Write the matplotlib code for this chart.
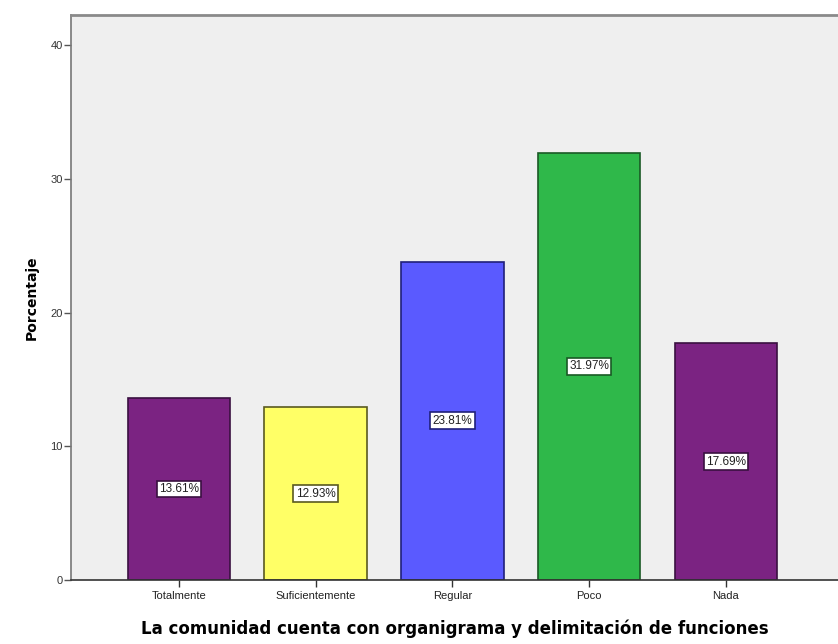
import numpy as np
import matplotlib.pyplot as plt

categorias = ['Totalmente', 'Suficientemente', 'Regular', 'Poco', 'Nada']
porcentajes = [13.61, 12.93, 23.81, 31.97, 17.69]
etiquetas = ['13.61%', '12.93%', '23.81%', '31.97%', '17.69%']
colores = ['#7b2382', '#ffff66', '#5a5aff', '#2fb84a', '#7b2382']
bordes = ['#3a1040', '#5a5a20', '#20207a', '#1a5a25', '#3a1040']

plt.rcParams['font.family'] = ['Liberation Sans', 'DejaVu Sans']

fig = plt.figure(figsize=(8.38, 6.44), dpi=100)
ax = fig.add_axes([0.0847, 0.0994, 0.9153, 0.8773])
ax.set_facecolor('#efefef')

x = np.arange(len(categorias))
bars = ax.bar(x, porcentajes, width=0.75, color=colores, edgecolor=bordes, linewidth=1.2, zorder=2)

for xi, v, t, b in zip(x, porcentajes, etiquetas, bordes):
    ax.text(xi, v / 2, t, ha='center', va='center', fontsize=8.5, color='#222222', zorder=3,
            bbox=dict(boxstyle='square,pad=0.2', facecolor='white', edgecolor=b, linewidth=1.2))

ax.set_xlim(-0.79, 4.82)
ax.set_ylim(0, 42.26)
ax.set_yticks([0, 10, 20, 30, 40])
ax.set_xticks(x)
ax.set_xticklabels(categorias, fontsize=8)
ax.tick_params(axis='y', labelsize=8, length=5, width=1, color='#555555', pad=1, labelcolor='#333333')
ax.tick_params(axis='x', length=5, width=1, color='#333333', pad=3, labelcolor='#222222')

ax.spines['right'].set_visible(False)
ax.spines['top'].set_color('#8a8a8a')
ax.spines['top'].set_linewidth(2)
ax.spines['left'].set_color('#777777')
ax.spines['left'].set_linewidth(1.2)
ax.spines['bottom'].set_color('#333333')
ax.spines['bottom'].set_linewidth(1.2)

ax.set_ylabel('Porcentaje', fontsize=10, fontweight='bold', family='DejaVu Sans', labelpad=8)
ax.set_xlabel('La comunidad cuenta con organigrama y delimitación de funciones',
              fontsize=12, fontweight='bold', family='DejaVu Sans', labelpad=13)

fig.savefig('out.png', dpi=100)
